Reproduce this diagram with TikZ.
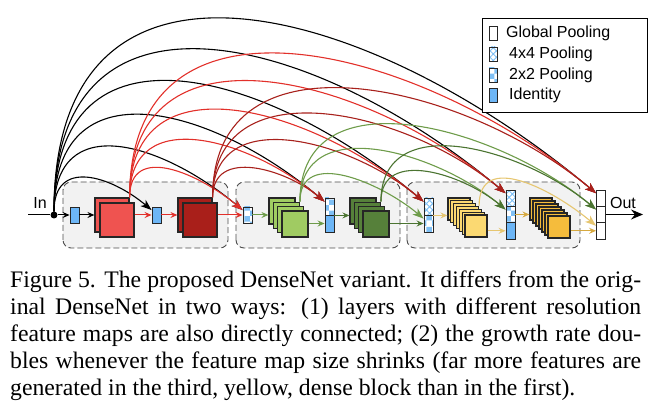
\documentclass[tikz,border=0pt]{standalone}
\usepackage{fontspec}
\setmainfont{Liberation Serif}
\setsansfont{Liberation Sans}
\usetikzlibrary{arrows.meta,patterns,patterns.meta}

\definecolor{idblue}{HTML}{6DB6F6}
\definecolor{poolblue}{HTML}{7FC0F5}
\definecolor{redA}{HTML}{EF5350}
\definecolor{redB}{HTML}{A91F1A}
\definecolor{greenA}{HTML}{A0CB62}
\definecolor{greenB}{HTML}{56803A}
\definecolor{yellowA}{HTML}{FBD972}
\definecolor{yellowB}{HTML}{F5BC3C}
\definecolor{arcred}{HTML}{E2302A}
\definecolor{arcdarkred}{HTML}{A8211C}
\definecolor{arcgreen}{HTML}{6E9C4A}
\definecolor{arcdarkgreen}{HTML}{4B7431}
\definecolor{arcyellow}{HTML}{E6C670}
\definecolor{arcgold}{HTML}{D6A940}
\definecolor{blockfill}{HTML}{F2F2F2}

\tikzset{
  block/.style={draw=black!70, dash pattern=on 6pt off 3pt, line width=0.9pt, fill=blockfill, rounded corners=8pt},
  layer/.style={draw=black!85, line width=1.2pt, inner sep=0pt, minimum size=#1},
  bar/.style={draw=black!85, line width=0.9pt, inner sep=0pt, minimum width=9pt, minimum height=#1},
  idbar/.style={bar=#1, fill=idblue},
  pool2/.style={bar=#1, preaction={fill=white}, pattern=checkerboard, pattern color=poolblue},
  pool4/.style={bar=#1, preaction={fill=white}, pattern={Hatch[angle=45,distance=4.5pt,line width=0.9pt]}, pattern color=poolblue},
  gpool/.style={bar=#1, fill=white},
  keytext/.style={font=\sffamily\fontsize{16}{16}\selectfont, anchor=west, inner sep=0pt},
  iotext/.style={font=\sffamily\fontsize{16}{16}\selectfont, inner sep=0pt},
  link/.style={line width=1.1pt, -{Stealth[length=11pt,width=8pt,inset=3pt]}},
  feed/.style={line width=1pt, -{Stealth[length=7pt,width=6pt,inset=2.5pt]}},
  jump/.style={out=90, in=140, looseness=#1},
  captext/.style={font=\fontsize{23.7}{27}\selectfont, align=left, inner sep=0pt}
}

\begin{document}
\begin{tikzpicture}[x=1pt, y=1pt]
  \useasboundingbox (0,0) rectangle (656,420);

  % dense blocks
  \draw[block] (63,172) rectangle (228,238);
  \draw[block] (236,172) rectangle (400,238);
  \draw[block] (407,172) rectangle (580,238);

  % input
  \coordinate (input) at (28,205);
  \node[circle, fill=black, inner sep=0pt, minimum size=7pt] (split) at (54,205) {};
  \node[iotext] (intext) at (40,217) {In};
  \draw[line width=1pt] (input) -- (split);

  % first block (red)
  \node[idbar=16pt] (id1) at (74.5,205) {};
  \foreach \i in {1,2}
    \node[layer=34pt, fill=redA] (r\i) at ({112+(\i-1)*5},{205-(\i-1)*5}) {};
  \node[idbar=16pt] (id2) at (156.5,205) {};
  \foreach \i in {1,2}
    \node[layer=34pt, fill=redB] (dr\i) at ({195+(\i-1)*5},{205-(\i-1)*5}) {};

  % second block (green)
  \node[pool2=16pt] (p1) at (247.5,205) {};
  \foreach \i in {1,...,4}
    \node[layer=26pt, fill=greenA] (g\i) at ({282+(\i-1)*4.33},{209-(\i-1)*4.33}) {};
  \node[pool2=17pt] (t2a) at (329.5,213.5) {};
  \node[idbar=17pt] (t2b) at (329.5,196.5) {};
  \foreach \i in {1,...,4}
    \node[layer=26pt, fill=greenB] (dg\i) at ({363+(\i-1)*4.33},{209-(\i-1)*4.33}) {};

  % third block (yellow)
  \node[pool4=17pt] (t3a) at (428.5,213.5) {};
  \node[pool2=17pt] (t3b) at (428.5,196.5) {};
  \foreach \i in {1,...,7}
    \node[layer=22pt, fill=yellowA] (y\i) at ({459+(\i-1)*2.83},{211-(\i-1)*2.83}) {};
  \node[pool4=16.33pt] (t4a) at (510.5,221.8) {};
  \node[pool2=16.33pt] (t4b) at (510.5,205.5) {};
  \node[idbar=16.33pt] (t4c) at (510.5,189.2) {};
  \foreach \i in {1,...,7}
    \node[layer=22pt, fill=yellowB] (or\i) at ({541+(\i-1)*3},{211-(\i-1)*3}) {};

  % output
  \node[gpool=16.33pt] (o1) at (601,221.8) {};
  \node[gpool=16.33pt] (o2) at (601,205.5) {};
  \node[gpool=16.33pt] (o3) at (601,189.2) {};
  \node[iotext] (outtext) at (623,217) {Out};
  \coordinate (outend) at (643,205.5);

  % straight connections
  \draw[feed] (split) -- (id1);
  \draw[feed] (id1) -- (id1 -| r1.west);
  \draw[feed, arcred] (r2.east |- id2) -- (id2.west);
  \draw[feed, arcred] (id2) -- (id2 -| dr1.west);
  \draw[feed, arcred] (dr2.east |- p1) -- (p1.west);
  \draw[feed, arcgreen] (p1) -- (p1 -| g1.west);
  \draw[feed, arcgreen] (g4.east |- t2b) -- (t2b.west);
  \draw[feed, arcdarkgreen] (t2a.south east) -- (t2a.south east -| dg1.west);
  \draw[feed, arcdarkgreen] (dg4.east |- t3b) -- (t3b.west);
  \draw[feed, arcyellow] (t3a.south east) -- (t3a.south east -| y1.west);
  \draw[feed, arcyellow] (y7.east |- t4c) -- (t4c.west);
  \draw[feed, arcgold] (t4b) -- (t4b -| or1.west);
  \draw[feed, arcgold] (or7.east |- o3) -- (o3.west);
  \draw[line width=1.2pt, -{Stealth[length=12pt,width=10pt,inset=4pt]}] (o2) -- (outend);

  % skip connections
  \foreach \t in {id2,p1,t2a,t3a,t4a,o1}
    \draw[link] (split) to[jump=1.4] (\t.135);
  \foreach \t in {p1,t2a,t3a,t4a,o1}
    \draw[link, arcred] (r1.north east) to[jump=1.25] (\t.135);
  \foreach \t in {t2a,t3a,t4a,o1}
    \draw[link, arcdarkred] (dr1.north east) to[jump=1.15] (\t.135);
  \foreach \t in {t3b,t4b,o2}
    \draw[link, arcgreen] (g2.north east) to[jump=1.12] (\t.135);
  \foreach \t in {t4b,o2}
    \draw[link, arcdarkgreen] (dg2.north east) to[jump=1.12] (\t.135);
  \draw[link, arcyellow] (y4.north east) to[jump=1.2] (o3.135);

  % legend
  \draw[line width=0.8pt, fill=white] (482,308) rectangle (647,402);
  \node[gpool=14pt, minimum width=8pt] (k1) at (493,387) {};
  \node[pool4=14pt, minimum width=8pt] (k2) at (493,366) {};
  \node[pool2=14pt, minimum width=8pt] (k3) at (493,345) {};
  \node[idbar=14pt, minimum width=8pt] (k4) at (493,324.5) {};
  \node[keytext] (l1) at (506,387) {Global Pooling};
  \node[keytext] (l2) at (509,366) {4x4 Pooling};
  \node[keytext] (l3) at (509,345) {2x2 Pooling};
  \node[keytext] (l4) at (509,324.5) {Identity};

  % caption
  \node[captext, anchor=north west] (cap) at (10,149.5) {%
    \makebox[631pt][s]{Figure 5. The proposed DenseNet variant. It differs from the orig-}\\
    \makebox[631pt][s]{inal DenseNet in two ways: (1) layers with different resolution}\\
    \makebox[631pt][s]{feature maps are also directly connected; (2) the growth rate dou-}\\
    \makebox[631pt][s]{bles whenever the feature map size shrinks (far more features are}\\
    generated in the third, yellow, dense block than in the first).};
\end{tikzpicture}
\end{document}
